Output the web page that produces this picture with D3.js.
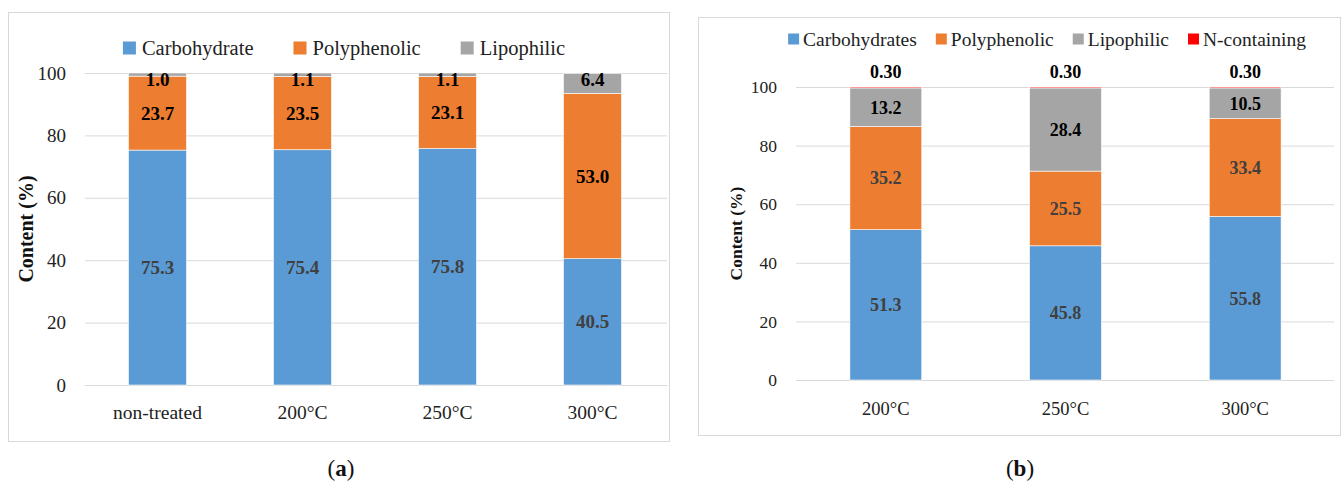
<!doctype html>
<html>
  <head>
    <meta charset="utf-8">
    <title>Content by treatment</title>
    <style>
      * { margin: 0; padding: 0; }
      body { background: #fff; }
      svg { display: block; }
      text { font-family: "Liberation Serif", "Times New Roman", serif; }
    </style>
    <script src="https://cdnjs.cloudflare.com/ajax/libs/d3/7.8.5/d3.min.js"></script>
  </head>
  <body>
    <script>
      // panel (a)
      var catsA = ["non-treated", "200°C", "250°C", "300°C"];
      var carbA = [75.3, 75.4, 75.8, 40.5];
      var polyA = [23.7, 23.5, 23.1, 53.0];
      var lipoA = [1.0, 1.1, 1.1, 6.4];
      var namesA = ["Carbohydrate", "Polyphenolic", "Lipophilic"];

      // panel (b)
      var catsB = ["200°C", "250°C", "300°C"];
      var carbB = [51.3, 45.8, 55.8];
      var polyB = [35.2, 25.5, 33.4];
      var lipoB = [13.2, 28.4, 10.5];
      var nconB = [0.30, 0.30, 0.30];
      var namesB = ["Carbohydrates", "Polyphenolic", "Lipophilic", "N-containing"];

      var yTicks = [0, 20, 40, 60, 80, 100];
      var colors = ["#5B9BD5", "#ED7D31", "#A5A5A5", "#FF0000"];

      var svg = d3.select("body").append("svg")
        .attr("width", 1342)
        .attr("height", 484);

      function drawPanel(p) {
        var g = svg.append("g");

        // outer frame
        g.append("rect")
          .attr("x", p.frame[0] + 0.5).attr("y", p.frame[1] + 0.5)
          .attr("width", p.frame[2] - p.frame[0]).attr("height", p.frame[3] - p.frame[1])
          .attr("fill", "none").attr("stroke", "#d9d9d9").attr("stroke-width", 1);

        var x = d3.scaleBand().domain(p.cats).range([p.left, p.right])
          .paddingInner(0.6).paddingOuter(0.3);
        var y = d3.scaleLinear().domain([0, 100]).range([p.bottom, p.top]);

        // y axis + gridlines
        var yAxis = g.append("g")
          .attr("transform", "translate(" + p.left + ",0)")
          .call(d3.axisLeft(y).tickValues(yTicks).tickSize(-(p.gridRight - p.left)).tickPadding(19));
        yAxis.select(".domain").remove();
        yAxis.selectAll("line").attr("stroke", "#d9d9d9").attr("stroke-width", 1);
        yAxis.selectAll("text").attr("fill", "#222").style("font-size", p.tickSize + "px")
          .style("font-family", "Liberation Serif");

        // x labels
        var xAxis = g.append("g")
          .attr("transform", "translate(0," + p.bottom + ")")
          .call(d3.axisBottom(x).tickSize(0));
        xAxis.select(".domain").remove();
        xAxis.selectAll("text").attr("y", p.xLabelOff).attr("dy", "0.35em")
          .attr("fill", "#222").style("font-size", p.xSize + "px")
          .style("font-family", "Liberation Serif");

        // y title
        g.append("text")
          .attr("transform", "translate(" + p.titleX + "," + (p.top + p.bottom) / 2 + ") rotate(-90)")
          .attr("text-anchor", "middle").attr("dy", "0.35em")
          .attr("font-weight", "bold").attr("font-size", p.titleSize + "px")
          .attr("fill", "#111")
          .text("Content (%)");

        // stacked bars
        var rows = p.cats.map(function (c, i) {
          var r = { cat: c };
          p.series.forEach(function (s, j) { r[j] = s[i]; });
          return r;
        });
        var keys = p.series.map(function (s, j) { return j; });
        var stacked = d3.stack().keys(keys)(rows);

        var layers = g.selectAll("g.layer").data(stacked).enter().append("g")
          .attr("class", "layer")
          .attr("fill", function (d, j) { return colors[j]; });

        layers.selectAll("rect").data(function (d) { return d; }).enter().append("rect")
          .attr("x", function (d) { return x(d.data.cat); })
          .attr("width", x.bandwidth())
          .attr("y", function (d) { return y(d[1]); })
          .attr("height", function (d) { return Math.max(1, y(d[0]) - y(d[1])); })
          .attr("stroke", "#fff").attr("stroke-width", 0.6);

        // data labels
        stacked.forEach(function (layer, j) {
          var mode = p.labelMode[j];
          g.selectAll(null).data(layer).enter().append("text")
            .attr("x", function (d) { return x(d.data.cat) + x.bandwidth() / 2; })
            .attr("y", function (d) {
              if (mode === "top") return y(d[1]) + 6;
              if (mode === "above") return y(d[1]) - 15;
              return (y(d[0]) + y(d[1])) / 2;
            })
            .attr("dy", "0.35em")
            .attr("text-anchor", "middle")
            .attr("font-weight", "bold")
            .attr("font-size", p.labelSize + "px")
            .attr("fill", p.labelColor[j])
            .text(function (d) { return d3.format(p.labelFmt[j])(d[1] - d[0]); });
        });

        // legend, laid out from measured text widths
        var leg = g.append("g");
        var cx = 0;
        p.names.forEach(function (n, j) {
          var item = leg.append("g").attr("transform", "translate(" + cx + ",0)");
          item.append("rect")
            .attr("x", 0).attr("y", -p.sq / 2).attr("width", p.sq).attr("height", p.sq)
            .attr("fill", colors[j]);
          var t = item.append("text")
            .attr("x", p.sq + p.sqGap).attr("dy", "0.35em")
            .attr("font-size", p.legendSize + "px").attr("fill", "#222")
            .text(n);
          cx += p.sq + p.sqGap + t.node().getComputedTextLength() + p.itemGap;
        });
        var legW = cx - p.itemGap;
        leg.attr("transform", "translate(" + (p.legendCx - legW / 2) + "," + p.legendY + ")");

        // caption
        var cap = g.append("text")
          .attr("x", p.capX).attr("y", 476)
          .attr("text-anchor", "middle")
          .attr("font-size", "23px").attr("fill", "#111");
        cap.append("tspan").text("(");
        cap.append("tspan").attr("font-weight", "bold").text(p.capLetter);
        cap.append("tspan").text(")");
      }

      drawPanel({
        frame: [8, 12, 669, 441],
        cats: catsA,
        series: [carbA, polyA, lipoA],
        names: namesA,
        left: 85, right: 665, gridRight: 667, top: 73, bottom: 385,
        tickSize: 19, xSize: 19.5, xLabelOff: 27,
        titleX: 26, titleSize: 20,
        labelSize: 19,
        labelMode: ["center", "center", "top"],
        labelColor: ["#404040", "#000", "#000"],
        labelFmt: [".1f", ".1f", ".1f"],
        sq: 13, sqGap: 6, itemGap: 40, legendSize: 20.5, legendCx: 344, legendY: 48,
        capX: 341, capLetter: "a"
      });

      drawPanel({
        frame: [698, 17, 1340, 435],
        cats: catsB,
        series: [carbB, polyB, lipoB, nconB],
        names: namesB,
        left: 796, right: 1335, gridRight: 1334, top: 87, bottom: 380,
        tickSize: 17.5, xSize: 18.5, xLabelOff: 29,
        titleX: 736, titleSize: 17.5,
        labelSize: 18,
        labelMode: ["center", "center", "center", "above"],
        labelColor: ["#404040", "#404040", "#000", "#000"],
        labelFmt: [".1f", ".1f", ".1f", ".2f"],
        sq: 11, sqGap: 4, itemGap: 19, legendSize: 19.5, legendCx: 1047, legendY: 39,
        capX: 1020, capLetter: "b"
      });
    </script>
  </body>
</html>
